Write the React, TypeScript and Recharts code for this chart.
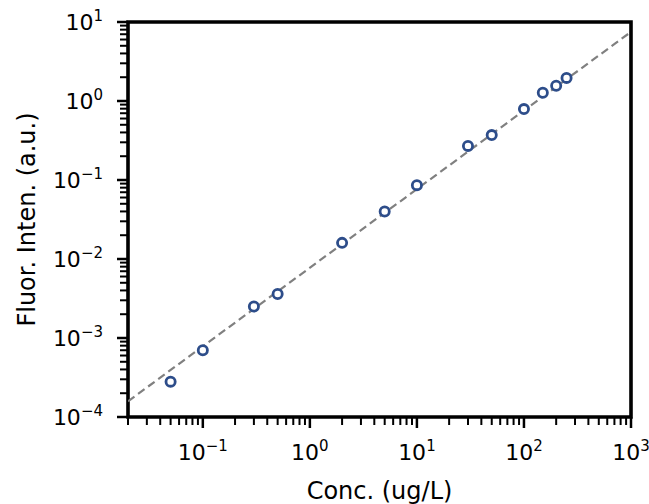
import React from "react";
import { ScatterChart, Scatter, XAxis, YAxis, ReferenceArea } from "recharts";

// measured points (conc in ug/L, fluorescence in a.u.)
const concentrations = [0.05, 0.1, 0.3, 0.5, 2, 5, 10, 30, 50, 100, 150, 200, 250];
const intensities = [0.00028, 0.0007, 0.0025, 0.0036, 0.016, 0.04, 0.086, 0.27, 0.37, 0.79, 1.27, 1.56, 1.96];

// dashed fit line end points
const fitX = [0.02, 1000];
const fitY = [0.000158, 7.5];

const xMajorTicks = [0.1, 1, 10, 100, 1000];
const yMajorTicks = [0.0001, 0.001, 0.01, 0.1, 1, 10];
const xDecades = [0.01, 0.1, 1, 10, 100];
const yDecades = [0.0001, 0.001, 0.01, 0.1, 1];
const minorSteps = [2, 3, 4, 5, 6, 7, 8, 9];

const xDomain = [0.02, 1000];
const yDomain = [0.0001, 10];

const points = concentrations.map((c, i) => ({ x: c, y: intensities[i] }));
const fitLine = fitX.map((x, i) => ({ x, y: fitY[i] }));

const xTicks = [
  ...xMajorTicks,
  ...xDecades.flatMap(d => minorSteps.map(s => d * s)).filter(v => v >= xDomain[0] && v <= xDomain[1]),
].sort((a, b) => a - b);
const yTicks = [...yMajorTicks, ...yDecades.flatMap(d => minorSteps.map(s => d * s))].sort((a, b) => a - b);

const FONT = "DejaVu Sans, sans-serif";
const BLUE = "#2d4d8a";

const isMajor = (v: number) => {
  const l = Math.log10(v);
  return Math.abs(l - Math.round(l)) < 1e-6;
};
const expLabel = (v: number) => {
  const e = Math.round(Math.log10(v));
  return e < 0 ? "\u2212" + Math.abs(e) : String(e);
};

const XTick = (props: any) => {
  const { x, y, payload } = props;
  const major = isMajor(payload.value);
  return (
    <g>
      <line x1={x} x2={x} y1={y} y2={y + (major ? 11 : 8)} stroke="#000" strokeWidth={major ? 2.5 : 2} />
      {major && (
        <text x={x} y={y + 43} textAnchor="middle" fontFamily={FONT} fontSize={22} fill="#000">
          <tspan>10</tspan>
          <tspan dy={-9} fontSize={15}>{expLabel(payload.value)}</tspan>
        </text>
      )}
    </g>
  );
};

const YTick = (props: any) => {
  const { x, y, payload } = props;
  const major = isMajor(payload.value);
  return (
    <g>
      <line x1={x} x2={x - (major ? 11 : 8)} y1={y} y2={y} stroke="#000" strokeWidth={major ? 2.5 : 2} />
      {major && (
        <text x={x - 25} y={y + 8} textAnchor="end" fontFamily={FONT} fontSize={22} fill="#000">
          <tspan>10</tspan>
          <tspan dy={-9} fontSize={15}>{expLabel(payload.value)}</tspan>
        </text>
      )}
    </g>
  );
};

const XLabel = (props: any) => {
  const { viewBox } = props;
  return (
    <text x={viewBox.x + viewBox.width / 2} y={499} textAnchor="middle" fontFamily={FONT} fontSize={24} fill="#000">
      Conc. (ug/L)
    </text>
  );
};

const YLabel = (props: any) => {
  const { viewBox } = props;
  const cy = viewBox.y + viewBox.height / 2;
  return (
    <text x={35} y={cy} transform={`rotate(-90, 35, ${cy})`} textAnchor="middle" fontFamily={FONT} fontSize={24} fill="#000">
      Fluor. Inten. (a.u.)
    </text>
  );
};

const OpenCircle = (props: any) => {
  const { cx, cy } = props;
  return <circle cx={cx} cy={cy} r={4.6} fill="#fff" stroke={BLUE} strokeWidth={2.8} />;
};

export default function App() {
  return (
    <div style={{ position: "absolute", left: 0, top: 0, background: "#fff" }}>
      <ScatterChart width={649} height={504} margin={{ top: 22, right: 18, bottom: 0, left: 0 }}>
        <XAxis
          type="number"
          dataKey="x"
          scale="log"
          domain={xDomain}
          allowDataOverflow
          ticks={xTicks}
          interval={0}
          tickSize={0}
          tickMargin={0}
          tickLine={false}
          axisLine={false}
          tick={<XTick />}
          height={87}
          label={<XLabel />}
        />
        <YAxis
          type="number"
          dataKey="y"
          scale="log"
          domain={yDomain}
          allowDataOverflow
          ticks={yTicks}
          interval={0}
          tickSize={0}
          tickMargin={0}
          tickLine={false}
          axisLine={false}
          tick={<YTick />}
          width={128}
          label={<YLabel />}
        />
        <Scatter
          data={fitLine}
          line={{ stroke: "#808080", strokeWidth: 2.2, strokeDasharray: "8 4.5" }}
          shape={() => <g />}
          isAnimationActive={false}
        />
        <Scatter data={points} shape={<OpenCircle />} isAnimationActive={false} />
        <ReferenceArea
          x1={xDomain[0]}
          x2={xDomain[1]}
          y1={yDomain[0]}
          y2={yDomain[1]}
          fill="none"
          stroke="#000"
          strokeWidth={3.6}
          ifOverflow="visible"
        />
      </ScatterChart>
    </div>
  );
}
